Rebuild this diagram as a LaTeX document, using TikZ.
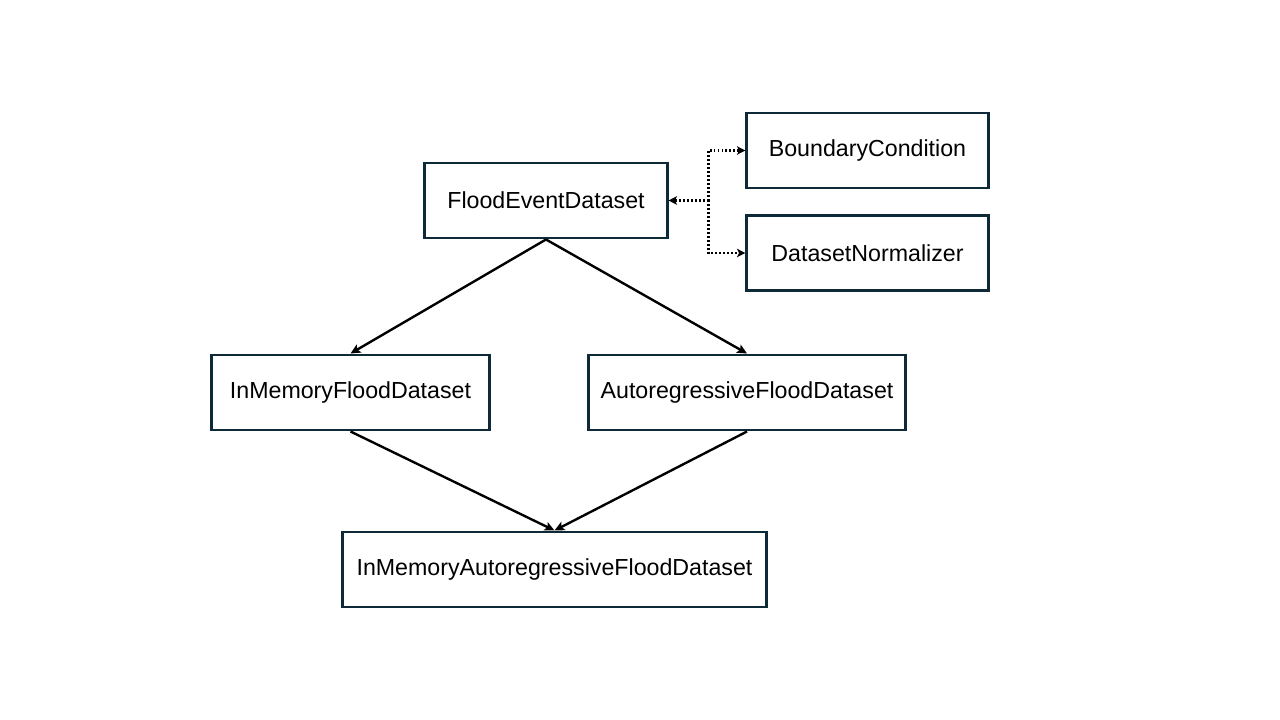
\documentclass[tikz,border=0pt]{standalone}
\usepackage{fontspec}
\setmainfont{Liberation Sans}
\usepackage{tikz}
\usetikzlibrary{arrows.meta}
\usetikzlibrary{calc}
\usetikzlibrary{positioning}

\definecolor{boxline}{HTML}{0E2A38}

\begin{document}
\begin{tikzpicture}[x=0.025cm,y=-0.025cm,
    cls/.style={draw=boxline,rectangle,line width=2.1pt,minimum height=1.875cm,
      inner sep=0pt,font=\fontsize{16.5}{19}\selectfont},
    inherit/.style={draw,line width=1.7pt,-{Stealth[length=7pt,width=6.5pt,inset=1.5pt]}},
    uses/.style={draw,line width=1.7pt,dash pattern=on 1.3pt off 1.5pt,
      -{Stealth[length=6pt,width=6pt,inset=1.5pt]}}]

  \useasboundingbox (0,0) rectangle (1280,720);

  \node [cls,minimum width=6.05cm] (fed) at (546,200.5) {FloodEventDataset};
  \node [cls,minimum width=6.03cm] (bc) at (867.5,150.5) {BoundaryCondition};
  \node [cls,minimum width=6.03cm] (dn) at (867.5,253) {DatasetNormalizer};
  \node [cls,minimum width=6.93cm] (imfd) at (350.5,392.5) {InMemoryFloodDataset};
  \node [cls,minimum width=7.9cm] (arfd) at (747,392.5) {AutoregressiveFloodDataset};
  \node [cls,minimum width=10.58cm] (imarfd) at (554.5,569.5) {InMemoryAutoregressiveFloodDataset};

  \path
    (fed.south) edge [inherit] (imfd.north)
    (fed.south) edge [inherit] (arfd.north)
    (imfd.south) edge [inherit] (imarfd.north)
    (arfd.south) edge [inherit] (imarfd.north);

  \coordinate (junc) at ($(fed.east)+(40,0)$);
  \draw [uses] (junc) -- (fed.east);
  \draw [uses] (junc) |- (bc.west);
  \draw [uses] (junc) |- (dn.west);

\end{tikzpicture}
\end{document}
